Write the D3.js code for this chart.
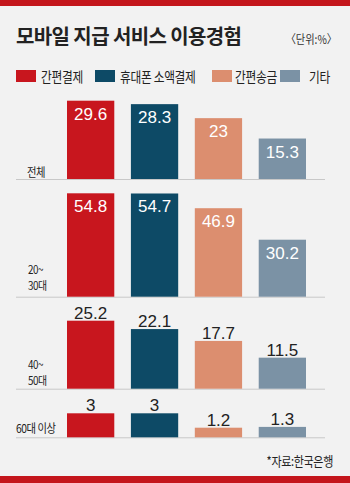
<!DOCTYPE html>
<html><head><meta charset="utf-8">
<script src="https://cdn.jsdelivr.net/npm/d3@7"></script>
<style>
html,body{margin:0;padding:0;background:#f2f2f2;}
svg{display:block;}
</style></head>
<body>
<svg id="chart" width="350" height="483"></svg>
<script>
const title = "모바일 지급 서비스 이용경험";
const unitLabel = "〈단위:%〉";
const source = "*자료:한국은행";
const series = ["간편결제", "휴대폰 소액결제", "간편송금", "기타"];
const colors = ["#c8161e", "#0d4a66", "#dc8e6f", "#7b92a5"];
const groups = [["전체"], ["20~", "30대"], ["40~", "50대"], ["60대 이상"]];
const v_all = [29.6, 28.3, 23, 15.3];
const v_2030 = [54.8, 54.7, 46.9, 30.2];
const v_4050 = [25.2, 22.1, 17.7, 11.5];
const v_60 = [3, 3, 1.2, 1.3];
const values = [v_all, v_2030, v_4050, v_60];

const svg = d3.select("#chart");
const W = 350, H = 483;
const sans = "'Noto Sans CJK KR', 'Noto Sans', sans-serif";
const num = "'Liberation Sans Narrow', 'Arial Narrow', 'Liberation Sans', sans-serif";

function ctext(parent, x, y, t, size, sx, anchor) {
  return parent.append("text")
    .attr("transform", `translate(${x},${y}) scale(${sx},1)`)
    .attr("text-anchor", anchor || "start")
    .attr("font-family", sans).attr("font-size", size).attr("fill", "#222")
    .text(t);
}

svg.append("rect").attr("width", W).attr("height", H).attr("fill", "#f2f2f2");
svg.append("rect").attr("x", 0).attr("y", 0).attr("width", W).attr("height", 6).attr("fill", "#c4161c");
svg.append("rect").attr("x", 0).attr("y", 476).attr("width", W).attr("height", 7).attr("fill", "#c4161c");

svg.append("text").attr("x", 16).attr("y", 44).text(title)
  .attr("font-family", sans).attr("font-weight", 700).attr("font-size", 20).attr("fill", "#222").attr("letter-spacing", -0.6);
ctext(svg, 337, 44, unitLabel, 12, 0.85, "end").attr("fill", "#333");

// legend
const legX = [16, 95, 212, 280];
const legT = [41, 120, 235, 309];
const leg = svg.append("g");
series.forEach((s, i) => {
  leg.append("rect").attr("x", legX[i]).attr("y", 70).attr("width", 20).attr("height", 12).attr("fill", colors[i]);
  ctext(leg, legT[i], 81.5, s, 14, 0.84).attr("letter-spacing", -0.4);
});

// bands
const x = d3.scaleBand().domain(series).range([67, 306]).paddingInner(0.26);

const panels = [
  {base: 179, top: 100.7, inside: true, lx: 27, labelY: [176.5]},
  {base: 296.7, top: 193.3, inside: true, lx: 28, labelY: [274, 290]},
  {base: 388.7, top: 320.7, inside: false, lx: 28, labelY: [369, 385]},
  {base: 437.3, top: 413.3, inside: false, lx: 16, labelY: [433]}
];

panels.forEach((p, gi) => {
  const vals = values[gi];
  const y = d3.scaleLinear().domain([0, d3.max(vals)]).range([p.base, p.top]);
  const g = svg.append("g");
  g.append("line").attr("x1", 16).attr("x2", 325).attr("y1", p.base + 0.5).attr("y2", p.base + 0.5)
    .attr("stroke", "#c8c8c8").attr("stroke-width", 1);
  g.selectAll("rect.bar").data(vals).join("rect").attr("class", "bar")
    .attr("x", (d, i) => x(series[i])).attr("width", x.bandwidth())
    .attr("y", d => y(d)).attr("height", d => p.base - y(d))
    .attr("fill", (d, i) => colors[i]);
  g.selectAll("text.val").data(vals).join("text").attr("class", "val")
    .attr("x", (d, i) => x(series[i]) + x.bandwidth() / 2)
    .attr("y", d => p.inside ? y(d) + 19 : y(d) - 2)
    .attr("text-anchor", "middle")
    .attr("font-family", num).attr("font-size", 17)
    .attr("fill", p.inside ? "#fff" : "#222")
    .text(d => d);
  groups[gi].forEach((t, li) => {
    ctext(g, p.lx, p.labelY[li], t, groups[gi].length > 1 ? 11.5 : 12, 0.86).attr("letter-spacing", -0.5);
  });
});

ctext(svg, 333, 466, source, 13, 0.85, "end").attr("letter-spacing", -0.4);
</script>
</body></html>
